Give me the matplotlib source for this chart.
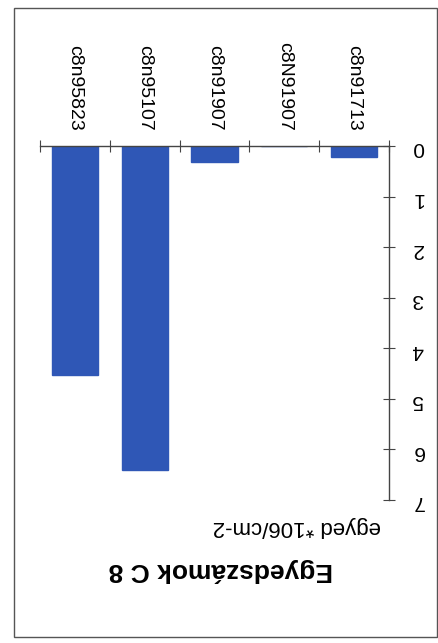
import matplotlib
matplotlib.use('Agg')

import matplotlib.pyplot as plt
from matplotlib.patches import Rectangle

categories = ['c8n95823', 'c8n95107', 'c8n91907', 'c8N91907', 'c8n91713']
values = [4.52, 6.4, 0.31, 0.0, 0.22]
y_ticks = [0, 1, 2, 3, 4, 5, 6, 7]
title = 'Egyedszámok C 8'
unit_label = 'egyed *106/cm-2'

plt.rcParams['font.family'] = ['Liberation Sans', 'DejaVu Sans']

fig = plt.figure(figsize=(4.38, 6.43), dpi=100)
ax = fig.add_axes([40 / 438, 1 - 500 / 643, 349 / 438, 354 / 643])

x = list(range(len(categories)))
ax.bar(x, values, width=0.66, color='#2f57b6', edgecolor='#2f57b6')

ax.set_xlim(-0.5, len(categories) - 0.5)
ax.set_ylim(7, 0)

# x axis sits on top (chart is upside down)
ax.xaxis.tick_top()
ax.set_xticks([i - 0.5 for i in range(len(categories) + 1)])
ax.set_xticklabels([])
ax.set_xticks(x, minor=True)
ax.set_xticklabels(categories, minor=True, rotation=270, fontsize=14)
ax.tick_params(axis='x', which='major', direction='inout', length=9, width=0.8, colors='#444444')
ax.tick_params(axis='x', which='minor', length=0, pad=11)

ax.yaxis.tick_right()
ax.set_yticks(y_ticks)
ax.set_yticklabels([str(t) for t in y_ticks], rotation=180, fontsize=15)
ax.tick_params(axis='y', direction='inout', length=9, width=0.8, colors='#444444', pad=12)
for lab in ax.get_yticklabels():
    lab.set_color('black')
for lab in ax.get_xticklabels(minor=True):
    lab.set_color('black')

for side in ['left', 'bottom']:
    ax.spines[side].set_visible(False)
for side in ['top', 'right']:
    ax.spines[side].set_color('#444444')
    ax.spines[side].set_linewidth(1)

fig.text(297 / 438, 1 - 527 / 643, unit_label, rotation=180, fontsize=16,
         ha='center', va='center')
fig.text(221 / 438, 1 - 570 / 643, title, rotation=180, fontsize=19,
         fontweight='bold', ha='center', va='center')

fig.patches.append(Rectangle((14 / 438, 1 - 637 / 643), 423 / 438, 629 / 643,
                             transform=fig.transFigure, fill=False,
                             edgecolor='#555555', linewidth=1))

fig.savefig('out.png', dpi=100)
plt.close(fig)
